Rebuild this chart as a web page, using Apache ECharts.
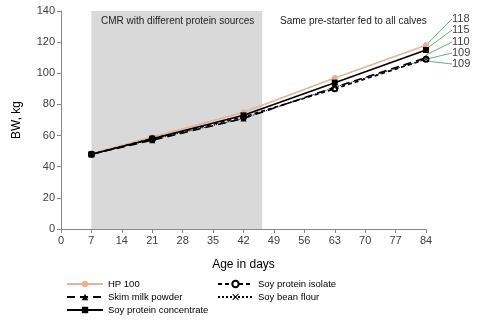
<!DOCTYPE html>
<html><head><meta charset="utf-8">
<script src="https://cdn.jsdelivr.net/npm/echarts@6/dist/echarts.min.js"></script>
<style>html,body{margin:0;padding:0;background:#fff}#c{width:479px;height:333px}</style>
</head><body><div id="c"></div>
<script>
var days = [7, 21, 42, 63, 84];
var hp100 = [48.5, 59, 75, 97, 118];
var skimMilk = [48, 57, 71, 91, 110];
var soyConc = [48, 58, 73, 94, 115];
var soyIsolate = [48, 58, 72, 90, 109];
var soyFlour = [48, 57.5, 71, 91, 109];
var seriesNames = ['HP 100', 'Skim milk powder', 'Soy protein concentrate', 'Soy protein isolate', 'Soy bean flour'];
var endLabelY = [19, 42, 30, 53, 64];
var cmrEnd = 46.3;

var font = 'Liberation Sans, Arial, sans-serif';
var xSym = 'path://M0,1L1,0L5,4L9,0L10,1L6,5L10,9L9,10L5,6L1,10L0,9L4,5Z';

function pts(v){
  return days.map(function(d,i){
    if (i === days.length - 1) {
      return {value: [d, v[i]], label: {show: true}, labelLine: {show: true}};
    }
    return [d, v[i]];
  });
}

function mk(idx, vals, color, ltype, symbol, symSize, itemStyle, z){
  return {
    name: seriesNames[idx], type: 'line', data: pts(vals), z: z,
    symbol: symbol, symbolSize: symSize,
    lineStyle: {color: color, width: ltype === 'dotted' ? 1 : 1.6, type: ltype},
    itemStyle: itemStyle,
    label: {
      show: false, color: '#404040', fontSize: 11, fontFamily: font,
      formatter: function(p){ return String(p.value[1]); }
    },
    labelLine: {show: false, lineStyle: {color: '#6aa985', width: 1}},
    labelLayout: function(p){
      if (p.dataIndex !== days.length - 1) return {};
      return {x: 452, y: endLabelY[idx], align: 'left', verticalAlign: 'middle'};
    }
  };
}

var chart = echarts.init(document.getElementById('c'));
var series = [
  mk(0, hp100, '#e3b497', 'solid', 'circle', 6, {color: '#e3b497'}, 2),
  mk(1, skimMilk, '#000', [8, 5], 'triangle', 6, {color: '#000'}, 3),
  mk(2, soyConc, '#000', 'solid', 'rect', 6, {color: '#000'}, 4),
  mk(3, soyIsolate, '#000', [4, 3], 'emptyCircle', 5, {color: '#000', borderWidth: 1}, 3),
  mk(4, soyFlour, '#000', 'dotted', xSym, 5, {color: '#000'}, 3)
];
series[0].markArea = {
  silent: true,
  itemStyle: {color: '#d9d9d9'},
  data: [[{xAxis: 7}, {xAxis: cmrEnd}]]
};

var legendItemStyle = {borderType: 'solid'};
chart.setOption({
  animation: false,
  textStyle: {fontFamily: font},
  grid: {left: 61, right: 53, top: 11, bottom: 104},
  xAxis: {
    type: 'value', min: 0, max: 84, interval: 7,
    name: 'Age in days', nameLocation: 'middle', nameGap: 30,
    nameTextStyle: {fontSize: 12, color: '#000', fontFamily: font},
    axisLine: {lineStyle: {color: '#888'}},
    axisTick: {show: true, lineStyle: {color: '#888'}, length: 4},
    axisLabel: {fontSize: 11, color: '#404040', margin: 6},
    splitLine: {show: false}
  },
  yAxis: {
    type: 'value', min: 0, max: 140, interval: 20,
    name: 'BW, kg', nameLocation: 'middle', nameGap: 38,
    nameTextStyle: {fontSize: 12, color: '#000', fontFamily: font},
    axisLine: {show: true, lineStyle: {color: '#888'}},
    axisTick: {show: true, lineStyle: {color: '#888'}, length: 4},
    axisLabel: {fontSize: 11, color: '#404040', margin: 6},
    splitLine: {show: false}
  },
  legend: [
    {orient: 'vertical', left: 61, top: 274, itemWidth: 36, itemHeight: 8, itemGap: 3,
     itemStyle: legendItemStyle,
     data: seriesNames.slice(0, 3), textStyle: {fontSize: 9.5, color: '#000', fontFamily: font}, selectedMode: false},
    {orient: 'vertical', left: 212, top: 274, itemWidth: 35, itemHeight: 8, itemGap: 3,
     itemStyle: legendItemStyle,
     data: seriesNames.slice(3), textStyle: {fontSize: 9.5, color: '#000', fontFamily: font}, selectedMode: false}
  ],
  graphic: [
    {type: 'text', z: 100, left: 101, top: 16, style: {text: 'CMR with different protein sources', font: '10px ' + font, fill: '#222'}},
    {type: 'text', z: 100, left: 280, top: 16, style: {text: 'Same pre-starter fed to all calves', font: '10px ' + font, fill: '#222'}}
  ],
  series: series
});
</script></body></html>
